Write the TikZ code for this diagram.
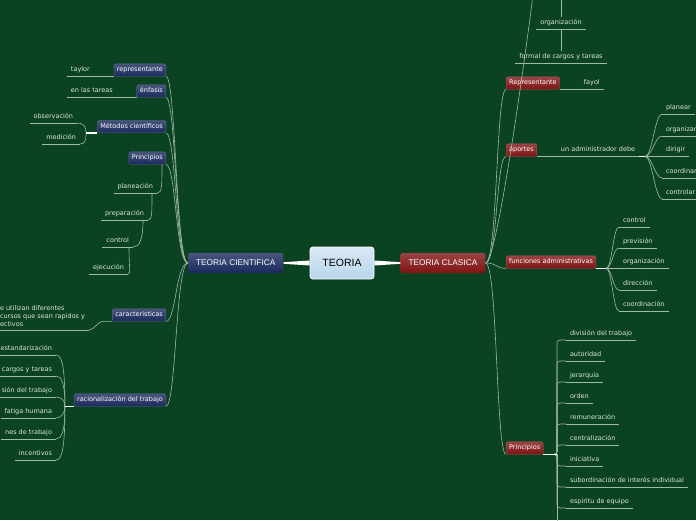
\documentclass[tikz,border=0pt]{standalone}
\usepackage{fontspec}
\setmainfont{DejaVu Sans}
\newfontfamily\titlefont{Liberation Sans}
\usepackage{xcolor}
\usetikzlibrary{positioning, calc}
\definecolor{mapgreen}{RGB}{10,66,34}
\definecolor{linkgray}{RGB}{160,184,164}
\definecolor{leaftext}{RGB}{220,232,220}
\definecolor{navybox}{RGB}{26,42,92}
\definecolor{redbox}{RGB}{128,20,20}
\definecolor{rootblue}{RGB}{184,214,236}

\begin{document}
\begin{tikzpicture}[
    x=1pt, y=-1pt,
    link/.style={draw=linkgray, line width=0.6pt},
    stub/.style={draw=white, line width=1.4pt},
    leaf/.style={font=\fontsize{6.5}{8}\selectfont, text=leaftext, inner xsep=4pt, inner ysep=3pt, outer sep=0pt, text height=5pt, text depth=1.5pt,
        append after command={(\tikzlastnode.south west) edge[link] (\tikzlastnode.south east)}},
    subbox/.style={rectangle, rounded corners=1.5pt, top color=#1!80!white, bottom color=#1, draw=#1!70!white, line width=0.3pt, text=white, font=\fontsize{6.5}{8}\selectfont, inner xsep=3pt, inner ysep=3pt, text height=5pt, text depth=1.5pt},
    titlebox/.style={rectangle, rounded corners=2pt, top color=#1!80!white, bottom color=#1, text=white, font=\titlefont\fontsize{8.3}{10}\selectfont, minimum height=20pt, inner xsep=8pt},
    rootbox/.style={rectangle, rounded corners=3pt, draw=white, line width=0.8pt, top color=rootblue!55!white, bottom color=rootblue, text=black, font=\titlefont\fontsize{10.5}{12}\selectfont, minimum width=64pt, minimum height=32pt}
]
\useasboundingbox (0,0) rectangle (696,520);
\clip (0,0) rectangle (696,520);
\fill[mapgreen] (0,0) rectangle (696,520);

\node[rootbox] (teoria) at (342,263) {TEORIA};
\node[titlebox=navybox, left=26pt of teoria] (cientifica) {TEORIA CIENTIFICA};
\node[titlebox=redbox, right=26pt of teoria] (clasica) {TEORIA CLASICA};
\fill[white] ([yshift=2.5pt]teoria.west) -- ([yshift=0.8pt]cientifica.east) -- ([yshift=-0.8pt]cientifica.east) -- ([yshift=-2.5pt]teoria.west) -- cycle;
\fill[white] ([yshift=2.5pt]teoria.east) -- ([yshift=0.8pt]clasica.west) -- ([yshift=-0.8pt]clasica.west) -- ([yshift=-2.5pt]teoria.east) -- cycle;

\node[subbox=navybox, anchor=east] (representante) at (166,70) {representante};
\node[subbox=navybox, anchor=east] (enfasis) at (166,91) {énfasis};
\node[subbox=navybox, anchor=east] (metodos) at (166,126.5) {Métodos científicos};
\node[subbox=navybox, anchor=east] (principiosL) at (166,158) {Principios};
\node[subbox=navybox, anchor=east] (caracteristicas) at (166,315) {caracteristicas};
\node[subbox=navybox, anchor=east] (racionalizacion) at (166,400) {racionalización del trabajo};
\draw[link] (cientifica.west) .. controls +(-12,0) and +(10,0) .. (representante.south east);
\draw[link] (cientifica.west) .. controls +(-12,0) and +(10,0) .. (enfasis.south east);
\draw[link] (cientifica.west) .. controls +(-12,0) and +(10,0) .. (metodos.south east);
\draw[link] (cientifica.west) .. controls +(-12,0) and +(10,0) .. (principiosL.south east);
\draw[link] (cientifica.west) .. controls +(-12,0) and +(10,0) .. (caracteristicas.south east);
\draw[link] (cientifica.west) .. controls +(-12,0) and +(10,0) .. (racionalizacion.south east);

\node[leaf, anchor=south east] (taylor) at ([xshift=-20pt]representante.south west) {taylor};
\draw[link] (representante.south west) -- (taylor.south east);
\node[leaf, anchor=south east] (tareas) at ([xshift=-20pt]enfasis.south west) {en las tareas};
\draw[link] (enfasis.south west) -- (tareas.south east);

\node[leaf, anchor=south east] (observacion) at (77,123) {observación};
\node[leaf, anchor=south east] (medicion) at (80,144) {medición};
\draw[link] (metodos.south west) -- ++(-11,0) .. controls +(0,-7) and +(6,0) .. (observacion.south east);
\draw[link] (metodos.south west) -- ++(-11,0) .. controls +(0,7) and +(5,0) .. (medicion.south east);
\draw[stub] (metodos.south west) -- ++(-11,0);

\node[leaf, anchor=south east] (planeacion) at (157,193) {planeación};
\node[leaf, anchor=south east] (preparacion) at (148,220) {preparación};
\node[leaf, anchor=south east] (controlL) at (133,247) {control};
\node[leaf, anchor=south east] (ejecucion) at (128,274) {ejecución};
\draw[link] ([xshift=-4pt]principiosL.south east) .. controls +(0,22) and +(5,0) .. (planeacion.south east);
\draw[link] ([xshift=-5pt]planeacion.south east) .. controls +(0,21) and +(4,0) .. (preparacion.south east);
\draw[link] ([xshift=-5pt]preparacion.south east) .. controls +(0,21) and +(6,0) .. (controlL.south east);
\draw[link] ([xshift=-4pt]controlL.south east) .. controls +(0,21) and +(3,0) .. (ejecucion.south east);

\node[leaf, anchor=south west, align=left, text height={}, text depth={}] (recursos) at (-4,330) {e utilizan diferentes\\cursos que sean rapidos y\\ectivos};
\draw[link] (caracteristicas.south west) -- ++(-10,0) .. controls +(-4,0) and +(5,0) .. (recursos.south east);

\node[leaf, anchor=south east] (estandarizacion) at (56,355) {estandarización};
\node[leaf, anchor=south east] (cargos) at (56,376) {cargos y tareas};
\node[leaf, anchor=south east] (divisionL) at (56,397) {sión del trabajo};
\node[leaf, anchor=south east] (fatiga) at (56,418) {fatiga humana};
\node[leaf, anchor=south east] (condiciones) at (56,439) {nes de trabajo};
\node[leaf, anchor=south east] (incentivos) at (56,460) {incentivos};
\draw[link] (racionalizacion.south west) -- ++(-9,0) .. controls +(0,-40) and +(6,0) .. (estandarizacion.south east);
\draw[link] (racionalizacion.south west) -- ++(-9,0) .. controls +(0,-22) and +(6,0) .. (cargos.south east);
\draw[link] (racionalizacion.south west) -- ++(-9,0) .. controls +(0,-6) and +(5,0) .. (divisionL.south east);
\draw[link] (racionalizacion.south west) -- ++(-9,0) .. controls +(0,7) and +(5,0) .. (fatiga.south east);
\draw[link] (racionalizacion.south west) -- ++(-9,0) .. controls +(0,24) and +(6,0) .. (condiciones.south east);
\draw[link] (racionalizacion.south west) -- ++(-9,0) .. controls +(0,42) and +(6,0) .. (incentivos.south east);
\draw[stub] (racionalizacion.south west) -- ++(-9,0);

\node[subbox=redbox, anchor=west] (representanteR) at (506,83) {Representante};
\node[subbox=redbox, anchor=west] (aportes) at (506,150) {aportes};
\node[subbox=redbox, anchor=west] (funciones) at (506,262) {funciones administrativas};
\node[subbox=redbox, anchor=west] (principiosR) at (506,448) {Principios};
\coordinate (arriba) at (533,-5);
\draw[link] (clasica.east) .. controls +(12,0) and +(-5,40) .. (arriba);
\draw[link] (clasica.east) .. controls +(12,0) and +(-10,0) .. (representanteR.south west);
\draw[link] (clasica.east) .. controls +(12,0) and +(-10,0) .. (aportes.south west);
\draw[link] (clasica.east) .. controls +(12,0) and +(-10,0) .. (funciones.south west);
\draw[link] (clasica.east) .. controls +(12,0) and +(-10,0) .. (principiosR.south west);

\coordinate (cadena) at (561,-5);
\node[leaf, anchor=south] (organizacionA) at (561,29) {organización};
\node[leaf, anchor=south] (formal) at (561,63) {formal de cargos y tareas};
\draw[link] (cadena) -- (organizacionA.north);
\draw[link] (organizacionA.south) -- (formal.north);

\node[leaf, anchor=south west] (fayol) at ([xshift=20pt]representanteR.south east) {fayol};
\draw[link] (representanteR.south east) -- (fayol.south west);

\node[leaf, anchor=south west] (administrador) at ([xshift=20pt]aportes.south east) {un administrador debe};
\draw[link] (aportes.south east) -- (administrador.south west);
\node[leaf, anchor=south west] (planear) at (662,114) {planear};
\node[leaf, anchor=south west] (organizar) at (662,136) {organizar};
\node[leaf, anchor=south west] (dirigir) at ([xshift=23pt]administrador.south east) {dirigir};
\node[leaf, anchor=south west] (coordinar) at (662,178) {coordinar};
\node[leaf, anchor=south west] (controlar) at (662,199) {controlar};
\draw[link] (administrador.south east) -- ++(6,0) .. controls +(7,0) and +(-7,0) .. (planear.south west);
\draw[link] (administrador.south east) -- ++(6,0) .. controls +(7,0) and +(-7,0) .. (organizar.south west);
\draw[link] (administrador.south east) -- (dirigir.south west);
\draw[link] (administrador.south east) -- ++(6,0) .. controls +(7,0) and +(-7,0) .. (coordinar.south west);
\draw[link] (administrador.south east) -- ++(6,0) .. controls +(7,0) and +(-7,0) .. (controlar.south west);
\draw[stub] (administrador.south east) -- ++(6,0);

\node[leaf, anchor=south west] (fcontrol) at (619,227) {control};
\node[leaf, anchor=south west] (prevision) at (619,248) {previsión};
\node[leaf, anchor=south west] (forganizacion) at ([xshift=23pt]funciones.south east) {organización};
\node[leaf, anchor=south west] (direccion) at (619,290) {dirección};
\node[leaf, anchor=south west] (coordinacion) at (619,311) {coordinación};
\draw[link] (funciones.south east) -- ++(10,0) .. controls +(6,0) and +(-6,0) .. (fcontrol.south west);
\draw[link] (funciones.south east) -- ++(10,0) .. controls +(6,0) and +(-6,0) .. (prevision.south west);
\draw[link] (funciones.south east) -- (forganizacion.south west);
\draw[link] (funciones.south east) -- ++(10,0) .. controls +(6,0) and +(-6,0) .. (direccion.south west);
\draw[link] (funciones.south east) -- ++(10,0) .. controls +(6,0) and +(-6,0) .. (coordinacion.south west);
\draw[stub] (funciones.south east) -- ++(10,0);

\node[leaf, anchor=south west] (divisionR) at (566,340) {división del trabajo};
\node[leaf, anchor=south west] (autoridad) at (566,361) {autoridad};
\node[leaf, anchor=south west] (jerarquia) at (566,382) {jerarquía};
\node[leaf, anchor=south west] (orden) at (566,403) {orden};
\node[leaf, anchor=south west] (remuneracion) at (566,424) {remuneración};
\node[leaf, anchor=south west] (centralizacion) at (566,445) {centralización};
\node[leaf, anchor=south west] (iniciativa) at (566,466) {iniciativa};
\node[leaf, anchor=south west] (subordinacion) at (566,487) {subordinación de interés individual};
\node[leaf, anchor=south west] (espiritu) at (566,508) {espiritu de equipo};
\coordinate (abajo) at (557,525);
\draw[link, rounded corners=3pt] (principiosR.south east) -| ([xshift=-9pt]divisionR.south west) -- (divisionR.south west);
\draw[link, rounded corners=3pt] (principiosR.south east) -| ([xshift=-9pt]autoridad.south west) -- (autoridad.south west);
\draw[link, rounded corners=3pt] (principiosR.south east) -| ([xshift=-9pt]jerarquia.south west) -- (jerarquia.south west);
\draw[link, rounded corners=3pt] (principiosR.south east) -| ([xshift=-9pt]orden.south west) -- (orden.south west);
\draw[link, rounded corners=3pt] (principiosR.south east) -| ([xshift=-9pt]remuneracion.south west) -- (remuneracion.south west);
\draw[link, rounded corners=3pt] (principiosR.south east) -| ([xshift=-9pt]centralizacion.south west) -- (centralizacion.south west);
\draw[link, rounded corners=3pt] (principiosR.south east) -| ([xshift=-9pt]iniciativa.south west) -- (iniciativa.south west);
\draw[link, rounded corners=3pt] (principiosR.south east) -| ([xshift=-9pt]subordinacion.south west) -- (subordinacion.south west);
\draw[link, rounded corners=3pt] (principiosR.south east) -| ([xshift=-9pt]espiritu.south west) -- (espiritu.south west);
\draw[link] (principiosR.south east) -| (abajo);
\draw[stub] (principiosR.south east) -- ++(14,0);
\end{tikzpicture}
\end{document}
